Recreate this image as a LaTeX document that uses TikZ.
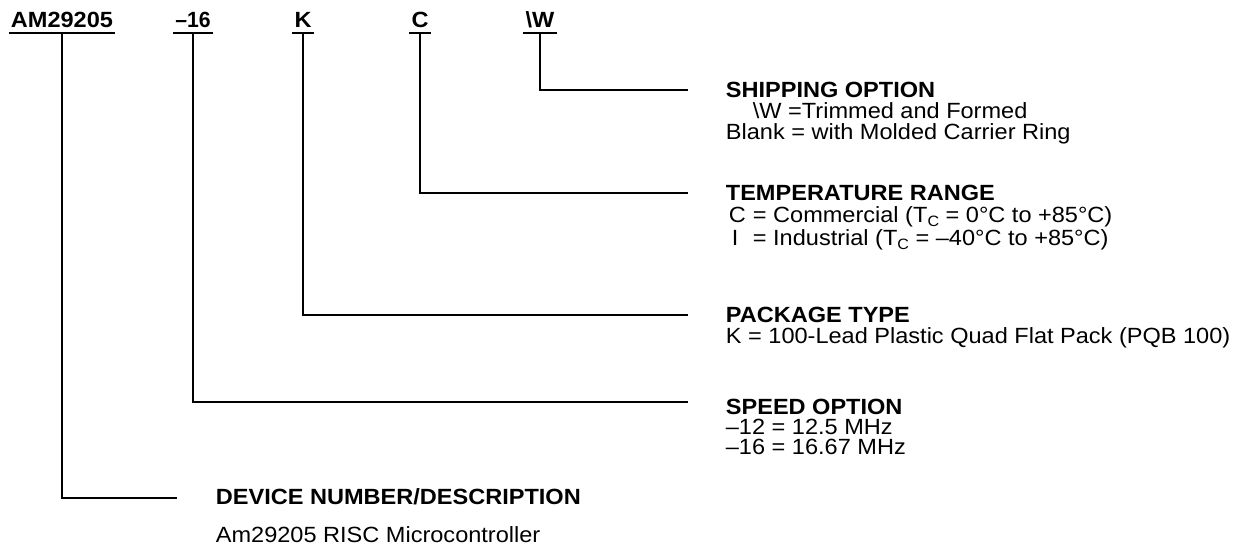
\documentclass[tikz,border=0pt]{standalone}
\usepackage{fontspec}
\setmainfont{Liberation Sans}[FakeStretch=1.07]
\newcommand\tsubsc[1]{\raisebox{-0.2em}{\fontsize{15}{15}\selectfont #1}}
\begin{document}
\begin{tikzpicture}[x=1pt,y=-1pt,line width=1.8pt,
  code/.style={font=\bfseries\fontsize{22}{24}\selectfont,inner xsep=1.5pt,inner ysep=0pt,text depth=5pt,anchor=base},
  ttl/.style={font=\bfseries\fontsize{22}{24}\selectfont,inner sep=0pt,anchor=base west},
  txt/.style={font=\fontsize{22}{24}\selectfont,inner sep=0pt,anchor=base west},
  conn/.style={line width=1.8pt}]
\useasboundingbox (0,0) rectangle (1254,550);
% part number codes
\node[code] (am) at (62,27) {AM29205};
\node[code] (sp) at (193,27) {\scalebox{0.9}[1]{–16}};
\node[code] (pk) at (303,27) {K};
\node[code] (tr) at (420,27) {C};
\node[code] (sh) at (540,27) {\textbackslash W};
\foreach \n in {am,sp,pk,tr,sh} \draw[conn] (\n.south west) -- (\n.south east);
% line ends
\coordinate (shE) at (688,90);
\coordinate (trE) at (688,193);
\coordinate (pkE) at (688,315);
\coordinate (spE) at (688,402);
\coordinate (amE) at (177,498);
\draw[conn] (sh.south) |- (shE);
\draw[conn] (tr.south) |- (trE);
\draw[conn] (pk.south) |- (pkE);
\draw[conn] (sp.south) |- (spE);
\draw[conn] (am.south) |- (amE);
% descriptions
\node[ttl] (shT) at (725,97) {SHIPPING OPTION};
\node[txt] (shA) at (752,118) {\textbackslash W =Trimmed and Formed};
\node[txt] (shB) at (725,139) {Blank = with Molded Carrier Ring};
\node[ttl] (trT) at (725,200) {TEMPERATURE RANGE};
\node[txt] (trA) at (728,222) {\makebox[24pt][l]{C}= Commercial (T\tsubsc{C} = 0°C to +85°C)};
\node[txt] (trB) at (728,245) {\makebox[24pt][l]{\hspace{3pt}I}= Industrial (T\tsubsc{C} = –40°C to +85°C)};
\node[ttl] (pkT) at (725,322) {PACKAGE TYPE};
\node[txt] (pkA) at (725,343) {K = 100-Lead Plastic Quad Flat Pack (PQB 100)};
\node[ttl] (spT) at (725,414) {SPEED OPTION};
\node[txt] (spA) at (725,434) {–12 = 12.5 MHz};
\node[txt] (spB) at (725,454) {–16 = 16.67 MHz};
\node[ttl] (amT) at (215,504) {DEVICE NUMBER/DESCRIPTION};
\node[txt] (amA) at (215,542) {Am29205 RISC Microcontroller};
\end{tikzpicture}
\end{document}
